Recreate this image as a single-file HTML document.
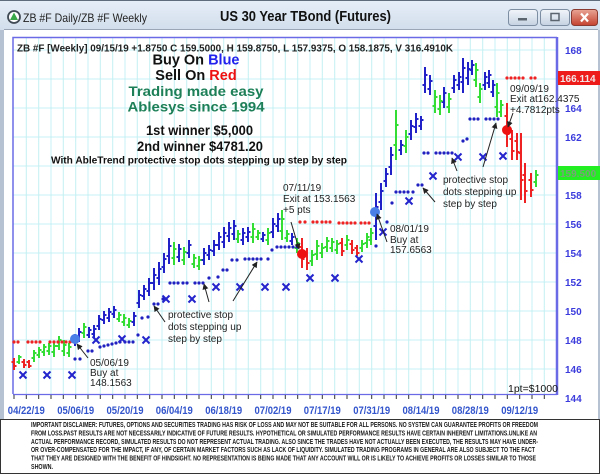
<!DOCTYPE html>
<html><head><meta charset="utf-8"><style>
html,body{margin:0;padding:0;background:#fff;}
svg{display:block;}
text{font-family:"Liberation Sans",Arial,sans-serif;}
</style></head><body>
<svg width="600" height="476" viewBox="0 0 600 476" xmlns="http://www.w3.org/2000/svg">
<defs>
<linearGradient id="tb" x1="0" y1="0" x2="0" y2="1"><stop offset="0" stop-color="#e6eef8"/><stop offset="1" stop-color="#d2deec"/></linearGradient>
<linearGradient id="btn" x1="0" y1="0" x2="0" y2="1"><stop offset="0" stop-color="#f2f5fa"/><stop offset="1" stop-color="#c5d2e2"/></linearGradient>
<linearGradient id="cls" x1="0" y1="0" x2="0" y2="1"><stop offset="0" stop-color="#e9a595"/><stop offset="1" stop-color="#c4412f"/></linearGradient>
<marker id="ah" viewBox="0 0 10 10" refX="9" refY="5" markerWidth="6" markerHeight="6" orient="auto" markerUnits="userSpaceOnUse"><path d="M0 0L10 5L0 10z" fill="#222"/></marker>
</defs>
<!-- window frame -->
<rect x="0" y="0" width="600" height="420" fill="#b6c2d2"/>
<rect x="0" y="0" width="600" height="30" fill="url(#tb)"/>
<line x1="0" y1="0.5" x2="600" y2="0.5" stroke="#5f6c7c"/>
<rect x="4" y="29" width="594" height="390" fill="#fff"/>
<line x1="4" y1="29.5" x2="598" y2="29.5" stroke="#9aa6b6"/>
<!-- title bar -->
<circle cx="14" cy="17" r="6" fill="#fff" stroke="#404a55" stroke-width="1.8"/>
<path d="M14 12.5L18 20H10z" fill="#3aa848"/>
<text x="23" y="22" font-size="12" fill="#222" textLength="124" lengthAdjust="spacingAndGlyphs">ZB #F Daily/ZB #F Weekly</text>
<text x="220" y="21" font-size="14.5" font-weight="bold" fill="#111" textLength="171" lengthAdjust="spacingAndGlyphs">US 30 Year TBond (Futures)</text>
<rect x="508.5" y="9.5" width="29" height="16" rx="3" fill="url(#btn)" stroke="#7d8ea3"/>
<rect x="518" y="18" width="9" height="2.5" fill="#5a6570"/>
<rect x="540.5" y="9.5" width="29" height="16" rx="3" fill="url(#btn)" stroke="#7d8ea3"/>
<rect x="551" y="13.5" width="8" height="7" fill="none" stroke="#5a6570" stroke-width="1.5"/>
<rect x="571.5" y="9.5" width="26" height="16" rx="3" fill="url(#cls)" stroke="#8a3a30"/>
<path d="M581 13.5l7 8m0 -8l-7 8" stroke="#fff" stroke-width="2.2"/>

<!-- grid -->
<g stroke="#c4f0f4" stroke-width="1">
<path d="M26.3 37V394M38.7 37V394M51 37V394M63.3 37V394M75.7 37V394M88 37V394M100.3 37V394M112.7 37V394M125 37V394M137.3 37V394M149.7 37V394M162 37V394M174.3 37V394M186.7 37V394M199 37V394M211.3 37V394M223.7 37V394M236 37V394M248.3 37V394M260.7 37V394M273 37V394M285.3 37V394M297.7 37V394M310 37V394M322.3 37V394M334.7 37V394M347 37V394M359.3 37V394M371.7 37V394M384 37V394M396.3 37V394M408.7 37V394M421 37V394M433.3 37V394M445.7 37V394M458 37V394M470.3 37V394M482.7 37V394M495 37V394M507.3 37V394M519.7 37V394M532 37V394M544.3 37V394"/>
<path d="M13 50H557M13 79H557M13 108H557M13 137H557M13 166H557M13 195H557M13 224H557M13 253H557M13 282H557M13 311H557M13 340H557M13 369H557"/>
</g>
<!-- plot border -->
<path d="M13 394V37.5H557" fill="none" stroke="#6a6ae6" stroke-width="1.5"/>
<line x1="557" y1="37" x2="557" y2="395" stroke="#6a6ae6" stroke-width="2.5"/>
<line x1="13" y1="394.5" x2="557" y2="394.5" stroke="#6a6ae6" stroke-width="1.2"/>
<!-- ticks -->
<path stroke="#333" stroke-width="1" d="M14 395V399M26.3 395V399M38.7 395V399M51 395V399M63.3 395V399M75.7 395V399M88 395V399M100.3 395V399M112.7 395V399M125 395V399M137.3 395V399M149.7 395V399M162 395V399M174.3 395V399M186.7 395V399M199 395V399M211.3 395V399M223.7 395V399M236 395V399M248.3 395V399M260.7 395V399M273 395V399M285.3 395V399M297.7 395V399M310 395V399M322.3 395V399M334.7 395V399M347 395V399M359.3 395V399M371.7 395V399M384 395V399M396.3 395V399M408.7 395V399M421 395V399M433.3 395V399M445.7 395V399M458 395V399M470.3 395V399M482.7 395V399M495 395V399M507.3 395V399M519.7 395V399M532 395V399M544.3 395V399"/>

<!-- header text -->
<text x="17" y="51.5" font-size="10" font-weight="bold" fill="#222" textLength="436" lengthAdjust="spacingAndGlyphs">ZB #F [Weekly] 09/15/19  +1.8750 C 159.5000, H 159.8750, L 157.9375, O 158.1875, V 316.4910K</text>
<g font-weight="bold" text-anchor="middle">
<text x="196" y="64.5" font-size="14.5" fill="#111">Buy On <tspan fill="#2222ee">Blue</tspan></text>
<text x="196" y="80" font-size="14.5" fill="#111">Sell On <tspan fill="#ee1111">Red</tspan></text>
<text x="196" y="96" font-size="14" fill="#1d7f57" textLength="135" lengthAdjust="spacingAndGlyphs">Trading made easy</text>
<text x="196" y="111.5" font-size="14" fill="#1d7f57" textLength="137" lengthAdjust="spacingAndGlyphs">Ablesys since 1994</text>
<text x="199.5" y="135" font-size="13.5" fill="#111" textLength="107" lengthAdjust="spacingAndGlyphs">1st winner $5,000</text>
<text x="200" y="151" font-size="13.5" fill="#111" textLength="126" lengthAdjust="spacingAndGlyphs">2nd winner $4781.20</text>
<text x="199" y="163.5" font-size="10.5" fill="#111" textLength="296" lengthAdjust="spacingAndGlyphs">With AbleTrend protective stop dots stepping up step by step</text>
</g>

<!-- bars -->
<g fill="none" stroke-width="2">
<path stroke="#2121c8" d="M75 334V346M72.5 342H75M75 337H77.5M79 328V342M76.5 338H79M79 332H81.5M89 327V338M86.5 335H89M89 330H91.5M94 325V338M91.5 334H94M94 329H96.5M99 315V330M96.5 326H99M99 319H101.5M104 311V324M101.5 320H104M104 315H106.5M109 308V322M106.5 318H109M109 312H111.5M114 306V318M111.5 314H114M114 310H116.5M134 312V326M131.5 322H134M134 316H136.5M139 290V308M136.5 303H139M139 295H141.5M144 285V300M141.5 296H144M144 289H146.5M149 278V296M146.5 291H149M149 283H151.5M154 268V290M151.5 283H154M154 275H156.5M159 262V285M156.5 278H159M159 269H161.5M164 253V273M161.5 267H164M164 259H166.5M169 238V264M166.5 256H169M169 246H171.5M179 244V262M176.5 257H179M179 249H181.5M189 240V258M186.5 253H189M189 245H191.5M204 248V265M201.5 260H204M204 253H206.5M209 245V260M206.5 255H209M209 250H211.5M214 240V256M211.5 251H214M214 245H216.5M219 232V250M216.5 245H219M219 237H221.5M224 227V248M221.5 242H224M224 233H226.5M229 222V242M226.5 236H229M229 228H231.5M234 220V240M231.5 234H234M234 226H236.5M243 228V245M240.5 240H243M243 233H245.5M248 227V242M245.5 237H248M248 232H250.5M263 232V242M260.5 239H263M263 235H265.5M273 218V238M270.5 232H273M273 224H275.5M278 213V232M275.5 226H278M278 219H280.5M292 233V245M289.5 241H292M292 237H294.5M376 193V240M373.5 226H376M376 207H378.5M381 183V210M378.5 202H381M381 191H383.5M386 168V187M383.5 181H386M386 174H388.5M391 147V175M388.5 167H391M391 155H393.5M401 140V155M398.5 150H401M401 145H403.5M411 120V140M408.5 134H411M411 126H413.5M416 113V133M413.5 127H416M416 119H418.5M421 116V130M418.5 126H421M421 120H423.5M425 67V93M422.5 85H425M425 75H427.5M430 75V95M427.5 89H430M430 81H432.5M444 87V108M441.5 102H444M444 93H446.5M454 75V93M451.5 88H454M454 80H456.5M459 72V90M456.5 85H459M459 77H461.5M463 58V93M460.5 82H463M463 68H465.5M468 62V85M465.5 78H468M468 69H470.5M472 60V75M469.5 70H472M472 65H474.5M485 72V90M482.5 85H485M485 77H487.5M489 70V88M486.5 83H489M489 75H491.5M493 80V97M490.5 92H493M493 85H495.5"/>
<path stroke="#33dd33" d="M19 355V364M16.5 362H19M19 357H21.5M34 350V362M31.5 358H34M34 353H36.5M39 347V358M36.5 355H39M39 350H41.5M44 344V356M41.5 352H44M44 347H46.5M49 343V355M46.5 351H49M49 346H51.5M54 341V357M51.5 352H54M54 346H56.5M59 336V350M56.5 346H59M59 340H61.5M64 340V356M61.5 351H64M64 345H66.5M69 343V357M66.5 353H69M69 347H71.5M84 323V338M81.5 333H84M84 327H86.5M119 312V322M116.5 319H119M119 315H121.5M124 314V326M121.5 322H124M124 318H126.5M129 318V328M126.5 325H129M129 321H131.5M174 242V265M171.5 258H174M174 249H176.5M184 247V265M181.5 260H184M184 252H186.5M194 254V268M191.5 264H194M194 258H196.5M199 256V270M196.5 266H199M199 260H201.5M238 230V243M235.5 239H238M238 234H240.5M253 223V243M250.5 237H253M253 229H255.5M258 230V240M255.5 237H258M258 233H260.5M268 228V245M265.5 240H268M268 233H270.5M282 210V240M279.5 231H282M282 219H284.5M287 230V242M284.5 238H287M287 234H289.5M297 238V253M294.5 248H297M297 243H299.5M312 250V266M309.5 261H312M312 255H314.5M317 240V260M314.5 254H317M317 246H319.5M322 243V258M319.5 253H322M322 248H324.5M327 237V252M324.5 247H327M327 241H329.5M332 238V252M329.5 248H332M332 242H334.5M337 240V254M334.5 250H337M337 244H339.5M347 235V250M344.5 245H347M347 240H349.5M362 240V252M359.5 248H362M362 244H364.5M367 233V248M364.5 243H367M367 237H369.5M371 228V245M368.5 240H371M371 233H373.5M396 110V160M393.5 145H396M396 125H398.5M406 130V153M403.5 146H406M406 137H408.5M435 90V113M432.5 106H435M435 97H437.5M440 95V115M437.5 109H440M440 101H442.5M449 93V113M446.5 107H449M449 99H451.5M476 63V87M473.5 80H476M476 70H478.5M480 83V103M477.5 97H480M480 89H482.5M497 83V117M494.5 107H497M497 93H499.5M501 100V117M498.5 112H501M501 105H503.5M536 170V187M533.5 182H536M536 175H538.5"/>
<path stroke="#ee2222" d="M14 358V370M11.5 362H14M14 366H16.5M24 359V368M21.5 362H24M24 365H26.5M29 360V368M26.5 362H29M29 366H31.5M302 238V268M299.5 247H302M302 259H304.5M307 248V270M304.5 255H307M307 263H309.5M342 238V256M339.5 243H342M342 251H344.5M352 240V254M349.5 244H352M352 250H354.5M357 245V256M354.5 248H357M357 253H359.5M507 103V147M504.5 116H507M507 134H509.5M512 130V160M509.5 139H512M512 151H514.5M517 133V160M514.5 141H517M517 152H519.5M521 133V200M518.5 153H521M521 180H523.5M525 163V203M522.5 175H525M525 191H527.5M531 173V197M528.5 180H531M531 190H533.5"/>
</g>

<!-- stop dots -->
<g fill="none" stroke-width="3.2" stroke-linecap="round">
<path stroke="#ee2222" d="M14 342h0M18 342h0M28 342h0M32 342h0M36 342h0M40 342h0M50 342h0M54 342h0M58 342h0M62 342h0M66 342h0M70 342h0M300 222h0M305 222h0M313 222h0M317 222h0M322 222h0M326 222h0M330 222h0M339 223h0M343 223h0M347 223h0M351 223h0M355 223h0M361 223h0M365 223h0M369 223h0M507 78h0M511 78h0M515 78h0M519 78h0M523 78h0M531 78h0M535 78h0"/>
<path stroke="#2020c0" d="M75 359h0M80 359h0M88 351h0M92 351h0M100 347h0M104 346h0M108 345h0M112 344h0M116 343h0M120 342h0M125 342h0M129 342h0M133 342h0M138 335h0M142 318h0M148 317h0M154 304h0M158 304h0M163 299h0M170 283h0M174 283h0M178 283h0M183 283h0M187 283h0M195 283h0M199 283h0M203 283h0M209 278h0M218 277h0M223 270h0M227 270h0M232 260h0M237 260h0M245 259h0M249 259h0M253 259h0M257 259h0M261 259h0M268 259h0M272 250h0M277 247h0M281 247h0M285 247h0M289 247h0M293 247h0M297 247h0M376 246h0M387 222h0M392 203h0M396 192h0M400 192h0M404 192h0M408 192h0M413 192h0M418 185h0M422 185h0M424 153h0M428 153h0M436 153h0M440 153h0M444 153h0M448 153h0M452 153h0M463 141h0M467 139h0M470 119h0M474 119h0M478 119h0M486 119h0M490 119h0M494 119h0M498 119h0"/>
</g>
<!-- X marks -->
<path fill="none" stroke="#2424cc" stroke-width="2" d="M19.5 371.5l7 7m0 -7l-7 7M43.5 371.5l7 7m0 -7l-7 7M68.5 371.5l7 7m0 -7l-7 7M92.5 336.5l7 7m0 -7l-7 7M118.5 335.5l7 7m0 -7l-7 7M142.5 336.5l7 7m0 -7l-7 7M162.5 295.5l7 7m0 -7l-7 7M188.5 295.5l7 7m0 -7l-7 7M212.5 283.5l7 7m0 -7l-7 7M236.5 283.5l7 7m0 -7l-7 7M261.5 283.5l7 7m0 -7l-7 7M282.5 283.5l7 7m0 -7l-7 7M306.5 274.5l7 7m0 -7l-7 7M331.5 274.5l7 7m0 -7l-7 7M355.5 255.5l7 7m0 -7l-7 7M379.5 228.5l7 7m0 -7l-7 7M405.5 197.5l7 7m0 -7l-7 7M429.5 172.5l7 7m0 -7l-7 7M454.5 153.5l7 7m0 -7l-7 7M479.5 153.5l7 7m0 -7l-7 7M499.5 152.5l7 7m0 -7l-7 7"/>
<!-- entry/exit dots -->
<circle cx="75" cy="339" r="5" fill="#4a7fe8"/>
<circle cx="375" cy="212" r="5" fill="#4a7fe8"/>
<circle cx="302" cy="254" r="5" fill="#ee1111"/>
<circle cx="507" cy="130" r="5" fill="#ee1111"/>

<!-- annotations -->
<g stroke="#222" stroke-width="1" marker-end="url(#ah)">
<line x1="88" y1="358" x2="77" y2="344"/>
<line x1="165" y1="322" x2="154" y2="306"/>
<line x1="209" y1="302" x2="204" y2="284"/>
<line x1="233" y1="301" x2="257" y2="262"/>
<line x1="291" y1="222" x2="299" y2="249"/>
<line x1="387" y1="242" x2="377" y2="214"/>
<line x1="435" y1="202" x2="423" y2="188"/>
<line x1="457" y1="171" x2="452" y2="158"/>
<line x1="483" y1="167" x2="496" y2="123"/>
<line x1="513" y1="113" x2="508" y2="127"/>
</g>
<g font-size="10" fill="#222">
<text x="90" y="366">05/06/19</text>
<text x="90" y="376">Buy at</text>
<text x="90" y="386">148.1563</text>
<text x="168" y="318">protective stop</text>
<text x="168" y="330">dots stepping up</text>
<text x="168" y="342">step by step</text>
<text x="283" y="191">07/11/19</text>
<text x="283" y="202">Exit at 153.1563</text>
<text x="283" y="213">+5 pts</text>
<text x="390" y="232">08/01/19</text>
<text x="390" y="243">Buy at</text>
<text x="390" y="253">157.6563</text>
<text x="443" y="183">protective stop</text>
<text x="443" y="195">dots stepping up</text>
<text x="443" y="207">step by step</text>
<text x="510" y="92">09/09/19</text>
<text x="510" y="102">Exit at162.4375</text>
<text x="510" y="113">+4.7812pts</text>
<text x="508" y="392" font-size="10.5" fill="#111">1pt=$1000</text>
</g>

<!-- y axis -->
<g font-size="10" font-weight="bold" fill="#3b3bdd">
<text x="565" y="54">168</text>
<text x="565" y="112">164</text>
<text x="565" y="141">162</text>
<text x="565" y="199">158</text>
<text x="565" y="228">156</text>
<text x="565" y="257">154</text>
<text x="565" y="286">152</text>
<text x="565" y="315">150</text>
<text x="565" y="344">148</text>
<text x="565" y="373">146</text>
<text x="565" y="402">144</text>
</g>
<rect x="558" y="71" width="42" height="14" fill="#ee1b1b"/>
<text x="560" y="82" font-size="10" font-weight="bold" fill="#f2e6e6">166.114</text>
<rect x="558" y="166" width="42" height="14" fill="#22ee22"/>
<text x="560" y="177" font-size="10" font-weight="bold" fill="#7aa07a">159.500</text>

<!-- x axis labels -->
<g font-size="11" font-weight="bold" fill="#3355cc" text-anchor="middle">
<text x="26.3" y="414" textLength="37" lengthAdjust="spacingAndGlyphs">04/22/19</text>
<text x="75.7" y="414" textLength="37" lengthAdjust="spacingAndGlyphs">05/06/19</text>
<text x="125" y="414" textLength="37" lengthAdjust="spacingAndGlyphs">05/20/19</text>
<text x="174.3" y="414" textLength="37" lengthAdjust="spacingAndGlyphs">06/04/19</text>
<text x="223.7" y="414" textLength="37" lengthAdjust="spacingAndGlyphs">06/18/19</text>
<text x="273" y="414" textLength="37" lengthAdjust="spacingAndGlyphs">07/02/19</text>
<text x="322.3" y="414" textLength="37" lengthAdjust="spacingAndGlyphs">07/17/19</text>
<text x="371.7" y="414" textLength="37" lengthAdjust="spacingAndGlyphs">07/31/19</text>
<text x="421" y="414" textLength="37" lengthAdjust="spacingAndGlyphs">08/14/19</text>
<text x="470.3" y="414" textLength="37" lengthAdjust="spacingAndGlyphs">08/28/19</text>
<text x="519.7" y="414" textLength="37" lengthAdjust="spacingAndGlyphs">09/12/19</text>
</g>

<!-- disclaimer -->
<rect x="0" y="419" width="600" height="57" fill="#fff"/>
<line x1="0" y1="419.5" x2="600" y2="419.5" stroke="#333"/>
<line x1="0.5" y1="419" x2="0.5" y2="474" stroke="#333"/>
<line x1="599.5" y1="419" x2="599.5" y2="474" stroke="#333"/>
<line x1="0" y1="473.5" x2="600" y2="473.5" stroke="#333"/>
<g font-size="7" font-weight="bold" fill="#1a1a1a">
<text x="31" y="427" textLength="507" lengthAdjust="spacingAndGlyphs">IMPORTANT DISCLAIMER: FUTURES, OPTIONS AND SECURITIES TRADING HAS RISK OF LOSS AND MAY NOT BE SUITABLE FOR ALL PERSONS. NO SYSTEM CAN GUARANTEE PROFITS OR FREEDOM</text>
<text x="31" y="435.5" textLength="506" lengthAdjust="spacingAndGlyphs">FROM LOSS.PAST RESULTS ARE NOT NECESSARILY INDICATIVE OF FUTURE RESULTS. HYPOTHETICAL OR SIMULATED PERFORMANCE RESULTS HAVE CERTAIN INHERENT LIMITATIONS.UNLIKE AN</text>
<text x="31" y="444" textLength="507" lengthAdjust="spacingAndGlyphs">ACTUAL PERFORMANCE RECORD, SIMULATED RESULTS DO NOT REPRESENT ACTUAL TRADING. ALSO SINCE THE TRADES HAVE NOT ACTUALLY BEEN EXECUTED, THE RESULTS MAY HAVE UNDER-</text>
<text x="31" y="452" textLength="504" lengthAdjust="spacingAndGlyphs">OR OVER-COMPENSATED FOR THE IMPACT, IF ANY, OF CERTAIN MARKET FACTORS SUCH AS LACK OF LIQUIDITY. SIMULATED TRADING PROGRAMS IN GENERAL ARE ALSO SUBJECT TO THE FACT</text>
<text x="31" y="460.5" textLength="505" lengthAdjust="spacingAndGlyphs">THAT THEY ARE DESIGNED WITH THE BENEFIT OF HINDSIGHT. NO REPRESENTATION IS BEING MADE THAT ANY ACCOUNT WILL OR IS LIKELY TO ACHIEVE PROFITS OR LOSSES SIMILAR TO THOSE</text>
<text x="31" y="469" textLength="22" lengthAdjust="spacingAndGlyphs">SHOWN.</text>
</g>
</svg>
</body></html>
